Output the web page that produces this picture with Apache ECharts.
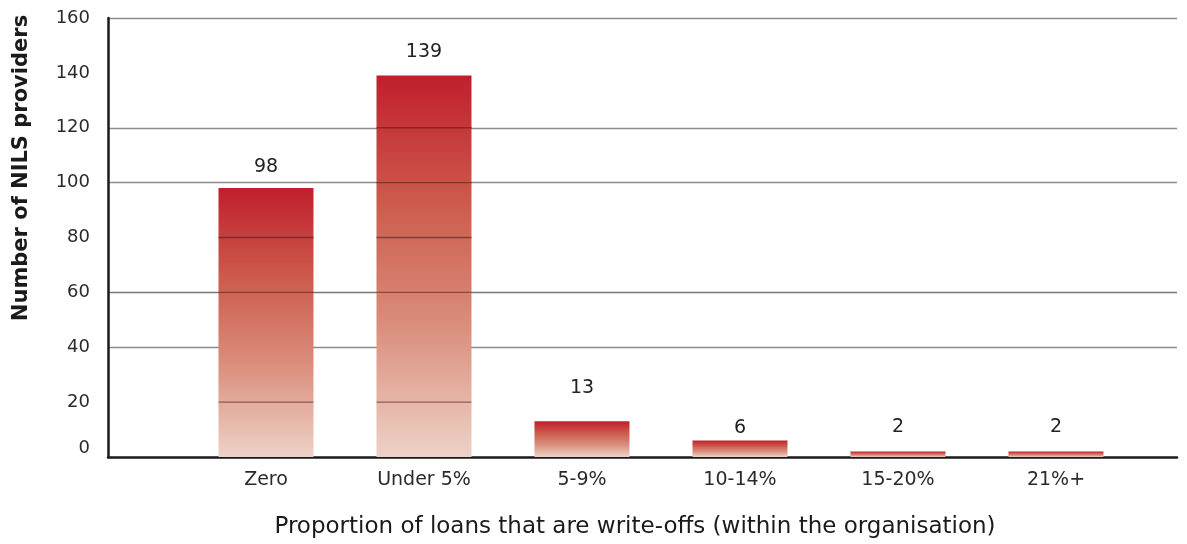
<!DOCTYPE html>
<html>
<head>
<meta charset="utf-8">
<script src="https://cdn.jsdelivr.net/npm/echarts@6/dist/echarts.min.js"></script>
<style>
  html, body { margin: 0; padding: 0; background: #ffffff; }
  #chart { width: 1187px; height: 544px; }
</style>
</head>
<body>
<div id="chart"></div>
<script>
// Write-off bands and the number of providers in each
const categories = ['Zero', 'Under 5%', '5-9%', '10-14%', '15-20%', '21%+'];
const providers = [98, 139, 13, 6, 2, 2];

// Y axis scale
const yMin = 0;
const yMax = 160;
const yStep = 20;

// Gridline levels that also show across the bars
const overlayLevels = [20, 60, 80, 100, 120];

const FONT = '"DejaVu Sans", "Noto Sans", sans-serif';
const BAR_W = 95;

// gap between each bar top and its value label, in px
const labelGap = [12, 14, 24, 3, 15, 15];

// colour of each horizontal gridline, by tick index (0, 20, ... 160)
const gridColors = ['rgba(0,0,0,0)', 'rgba(0,0,0,0)', '#8c8c8c', '#777777',
  'rgba(0,0,0,0)', '#8c8c8c', '#8c8c8c', 'rgba(0,0,0,0)', '#8c8c8c'];

const barData = providers.map((v, i) => ({
  value: [i + 1, v],
  label: { distance: labelGap[i] }
}));
const overlayData = providers.map((v, i) => [i + 1, v]);

const chart = echarts.init(document.getElementById('chart'), null, { renderer: 'canvas' });

chart.setOption({
  backgroundColor: '#ffffff',
  animation: false,
  grid: { left: 108, right: 10, top: 18, bottom: 87, containLabel: false },
  xAxis: {
    type: 'value',
    min: 0,
    max: 6.766,
    interval: 1,
    axisLine: { show: true, onZero: false, lineStyle: { color: '#1a1a1a', width: 2.5 } },
    axisTick: { show: false },
    splitLine: { show: false },
    axisLabel: {
      margin: 14,
      fontFamily: FONT,
      fontSize: 19,
      color: '#2a2a2a',
      showMinLabel: true,
      showMaxLabel: false,
      formatter: v => (Number.isInteger(v) && v >= 1 && v <= categories.length) ? categories[v - 1] : ''
    }
  },
  yAxis: {
    type: 'value',
    min: yMin,
    max: yMax,
    interval: yStep,
    axisLine: { show: true, lineStyle: { color: '#1a1a1a', width: 2.5 } },
    axisTick: { show: false },
    splitLine: { show: true, lineStyle: { color: gridColors, width: 1.3 } },
    axisLabel: {
      margin: 18,
      fontFamily: FONT,
      fontSize: 18,
      color: '#2a2a2a',
      formatter: v => v === 0 ? '{zero|0}' : String(v),
      rich: { zero: { fontFamily: FONT, fontSize: 18, color: '#2a2a2a', padding: [0, 0, 18, 0] } }
    }
  },
  graphic: [
    {
      type: 'text',
      x: 22,
      y: 168,
      rotation: Math.PI / 2,
      style: {
        text: 'Number of NILS providers',
        font: 'bold 21px ' + FONT,
        fill: '#1a1a1a',
        align: 'center',
        verticalAlign: 'middle'
      }
    },
    {
      type: 'text',
      x: 635,
      y: 527,
      style: {
        text: 'Proportion of loans that are write-offs (within the organisation)',
        font: '23px ' + FONT,
        fill: '#1a1a1a',
        align: 'center',
        verticalAlign: 'middle'
      }
    }
  ],
  series: [
    {
      type: 'bar',
      data: barData,
      barWidth: BAR_W,
      z: 2,
      itemStyle: {
        color: {
          type: 'linear', x: 0, y: 0, x2: 0, y2: 1,
          colorStops: [
            { offset: 0, color: '#c01f2d' },
            { offset: 0.35, color: '#cd5e4e' },
            { offset: 0.65, color: '#da8d7b' },
            { offset: 1, color: '#eed2c7' }
          ]
        }
      },
      label: {
        show: true,
        position: 'top',
        fontFamily: FONT,
        fontSize: 19,
        color: '#222222',
        formatter: p => String(p.value[1])
      }
    },
    {
      // darker gridline segments drawn on top of each bar
      type: 'custom',
      z: 5,
      silent: true,
      data: overlayData,
      renderItem: function (params, api) {
        const x = api.value(0);
        const v = api.value(1);
        const children = [];
        overlayLevels.forEach(level => {
          if (level < v) {
            const p = api.coord([x, level]);
            children.push({
              type: 'line',
              shape: { x1: p[0] - BAR_W / 2, y1: p[1], x2: p[0] + BAR_W / 2, y2: p[1] },
              style: { stroke: 'rgba(70,25,25,0.55)', lineWidth: 1.3 }
            });
          }
        });
        return { type: 'group', children: children };
      }
    }
  ]
});
</script>
</body>
</html>
